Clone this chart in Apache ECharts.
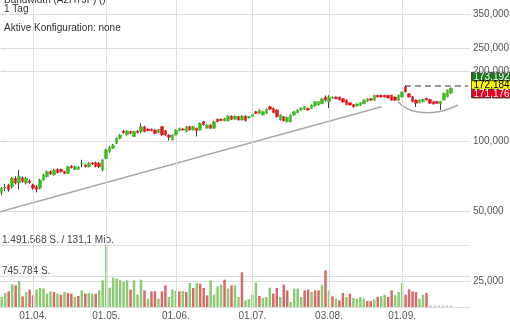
<!DOCTYPE html>
<html><head><meta charset="utf-8">
<script src="https://cdn.jsdelivr.net/npm/echarts@6/dist/echarts.min.js"></script>
<style>html,body{margin:0;padding:0;background:#fff}#c{width:510px;height:320px}</style>
</head><body><div id="c"></div>
<script>
// ---------- data ----------
const dates = ['19.03.','20.03.','23.03.','24.03.','25.03.','26.03.','27.03.','30.03.','31.03.',
'01.04.','02.04.','03.04.','06.04.','07.04.','08.04.','09.04.','13.04.','14.04.','15.04.','16.04.','17.04.','20.04.','21.04.','22.04.','23.04.','24.04.','27.04.','28.04.','29.04.','30.04.',
'01.05.','04.05.','05.05.','06.05.','07.05.','08.05.','11.05.','12.05.','13.05.','14.05.','15.05.','18.05.','19.05.','20.05.','21.05.','22.05.','26.05.','27.05.','28.05.','29.05.',
'01.06.','02.06.','03.06.','04.06.','05.06.','08.06.','09.06.','10.06.','11.06.','12.06.','15.06.','16.06.','17.06.','18.06.','19.06.','22.06.','23.06.','24.06.','25.06.','26.06.','29.06.','30.06.',
'01.07.','02.07.','06.07.','07.07.','08.07.','09.07.','10.07.','13.07.','14.07.','15.07.','16.07.','17.07.','20.07.','21.07.','22.07.','23.07.','24.07.','27.07.','28.07.','29.07.','30.07.','31.07.',
'03.08.','04.08.','05.08.','06.08.','07.08.','10.08.','11.08.','12.08.','13.08.','14.08.','17.08.','18.08.','19.08.','20.08.','21.08.','24.08.','25.08.','26.08.','27.08.','28.08.','31.08.',
'01.09.','02.09.','03.09.','04.09.','08.09.','09.09.','10.09.','11.09.','14.09.','15.09.','16.09.','17.09.','18.09.','21.09.','22.09.',
'23.09.','24.09.','25.09.','28.09.','29.09.'];

const monthLabels = ['01.04.','01.05.','01.06.','01.07.','03.08.','01.09.'];

// [open, close, low, high]
const ohlc = [
[59.9,62.6,58.5,63.5],[62.8,63.2,60.8,65.5],[64.7,61.6,60.5,65.5],[63.6,69.1,62.5,70.0],[69.1,66.0,65.0,70.5],
[66.0,70.5,62.0,75.0],[69.5,67.0,66.0,70.5],[65.9,69.1,65.0,70.0],[67.3,66.2,65.5,68.5],[64.7,62.6,61.8,65.5],
[63.6,61.8,60.0,64.5],[62.6,68.0,62.0,68.8],[68.0,71.5,67.5,72.2],[70.2,73.8,69.8,74.5],[73.8,72.2,71.5,74.6],
[71.4,75.0,71.0,75.8],[75.5,73.0,72.5,76.2],[75.5,73.8,73.2,76.0],[73.8,72.6,72.0,74.5],[72.6,77.5,72.0,78.2],
[78.0,76.8,76.2,78.8],[75.5,77.5,75.0,78.2],[75.6,77.2,75.2,77.8],[80.0,80.3,77.0,83.0],[78.9,77.5,77.0,79.5],
[77.5,80.2,77.0,81.0],[80.3,79.5,79.0,81.0],[80.7,77.5,77.0,81.5],[80.2,77.5,76.5,81.0],[75.0,82.8,74.0,83.5],
[84.0,91.5,83.5,92.5],[90.0,94.0,89.0,95.0],[93.0,96.0,92.5,97.0],[97.7,102.7,97.0,103.5],[102.7,106.1,102.0,107.0],
[110.4,108.6,107.5,111.2],[106.1,110.4,105.5,111.0],[109.7,107.9,107.0,110.5],[104.4,109.7,104.0,110.2],[110.4,108.6,108.0,111.0],
[109.7,115.2,107.9,119.0],[115.2,109.7,109.0,116.0],[112.6,110.8,110.2,113.2],[112.5,110.8,110.0,113.0],[111.5,107.9,107.2,112.2],
[108.6,112.0,108.0,112.6],[115.2,106.1,105.5,116.0],[110.8,106.1,105.0,111.5],[106.1,103.7,100.5,106.8],[101.0,106.1,100.5,106.8],
[106.1,111.5,105.5,112.0],[110.8,113.4,110.2,114.0],[112.6,111.5,111.0,113.5],[109.7,115.2,109.0,115.8],[115.2,111.5,111.0,116.0],
[111.5,115.2,111.0,115.8],[113.4,110.8,104.5,114.0],[111.5,119.1,111.0,120.0],[121.0,117.2,116.5,122.0],[113.4,117.2,113.0,118.0],
[117.2,113.4,112.8,118.0],[113.4,121.0,113.0,122.0],[124.0,121.0,120.5,124.8],[124.0,122.4,121.8,124.8],[122.2,125.0,121.5,125.8],
[122.2,128.0,121.5,128.8],[128.0,124.0,123.2,128.8],[124.0,128.0,123.5,128.8],[127.2,123.1,122.5,128.0],[123.1,128.0,122.5,128.8],
[128.0,122.2,121.5,128.8],[125.5,127.2,125.0,128.0],[127.2,130.5,126.5,131.2],[133.6,131.5,130.8,134.4],[131.5,135.9,130.8,136.6],
[129.3,133.6,128.6,134.4],[131.5,136.9,130.8,137.8],[140.5,136.9,136.2,141.4],[138.2,132.4,131.6,139.0],[135.9,127.2,126.4,136.8],
[123.1,129.4,122.4,130.2],[127.2,122.2,121.4,128.0],[121.0,126.4,120.2,127.2],[121.0,129.3,120.2,130.0],[129.3,133.6,128.6,134.4],
[132.4,135.9,131.6,136.6],[135.9,138.2,135.2,139.0],[136.9,140.5,136.2,141.4],[138.2,135.9,135.2,139.0],[138.2,142.8,137.5,143.6],
[141.4,147.6,140.5,148.4],[142.8,147.6,142.0,148.4],[144.7,152.0,144.0,152.8],[154.6,150.1,148.0,157.0],[147.1,154.6,138.6,157.2],
[153.1,154.6,152.0,155.5],[154.6,152.0,151.2,155.3],[154.6,150.1,149.4,155.3],[152.0,147.1,146.3,152.8],[150.1,143.3,142.6,150.8],
[146.1,142.8,142.0,146.8],[143.3,140.0,139.2,144.0],[141.4,144.3,140.6,145.0],[142.4,146.1,141.6,146.8],[144.7,150.1,144.0,150.8],
[148.2,152.0,147.4,152.8],[152.0,149.7,149.0,152.8],[149.7,157.2,149.0,158.0],[157.2,154.6,153.8,158.0],[157.2,154.6,153.8,158.0],
[157.2,154.6,153.8,158.0],[157.2,153.1,152.4,158.0],[157.2,149.7,149.0,158.0],[154.6,149.7,149.0,155.3],[149.7,157.2,149.0,158.0],
[154.6,162.5,153.8,163.3],[170.7,162.5,161.5,174.0],[159.7,154.6,153.8,160.5],[155.0,147.6,146.8,155.8],[150.0,145.2,140.0,150.8],
[146.0,150.0,145.2,150.8],[147.6,151.0,146.8,151.8],[152.6,150.0,149.2,153.4],[151.0,145.2,144.4,151.8],[147.6,144.2,143.4,148.4],
[147.6,145.2,144.4,148.4],[144.5,148.0,136.0,148.8],[150.1,160.4,149.2,161.2],[155.0,165.7,154.2,166.5],[160.4,168.5,159.5,169.5]
];

const volume = [
241000,337000,377000,546000,522000,626000,257000,361000,419000,281000,
419000,457000,443000,321000,377000,361000,321000,297000,361000,337000,
321000,241000,265000,401000,321000,337000,321000,321000,401000,642000,
1491568,466000,706000,682000,642000,601000,642000,419000,642000,297000,
658000,401000,201000,377000,377000,201000,377000,522000,241000,419000,
385000,377000,385000,361000,577000,457000,577000,562000,457000,281000,
642000,297000,497000,538000,658000,443000,522000,522000,241000,834000,
160000,185000,297000,586000,265000,217000,241000,466000,321000,457000,
241000,538000,401000,120000,443000,443000,241000,401000,419000,361000,
401000,401000,522000,883000,401000,257000,201000,160000,337000,241000,
321000,217000,201000,241000,201000,144000,144000,185000,241000,257000,
297000,241000,401000,281000,361000,577000,297000,425000,377000,361000,
201000,297000,337000,16000,null,null,null,null,null,null
];
const volDir = [
'g','g','r','g','r','g','r','g','r','r',
'g','g','g','g','g','r','g','r','g','r',
'r','g','r','g','r','g','g','r','g','g',
'g','g','g','g','g','g','g','r','g','g',
'g','r','g','r','r','g','r','r','g','g',
'g','r','g','r','g','r','g','r','r','r',
'g','g','g','g','r','g','r','g','g','r',
'g','g','g','g','r','g','g','g','r','r',
'g','r','r','g','g','g','g','r','r','g',
'r','r','g','r','g','r','g','r','r','g',
'r','g','g','g','g','r','r','g','r','g',
'g','r','r','g','g','g','r','r','r','r',
'g','g','r','g','g','g','g','g','g','g'
];
const volTail = [[123, 22000], [129.3, 22000]];

const priceTicks = [25, 50, 100, 200, 250, 350];
const volTicks = [745784, 1491568];
const trendLine = [[-0.5, 49.6], [109.1, 140.4]];
const arcLine = [[113.8,147.6],[116.3,138.2],[119.2,133.7],[122.5,132.3],[126.8,135.0],[131.1,142.8]];
const resistance = [[115.8, 172.4], [133.9, 172.4]];
const quoteValues = [173.192, 172.184, 171.176];

// ---------- chart ----------
const FONT = 'Liberation Sans, Arial, sans-serif';
const GREEN = '#3fbb1f', RED = '#e8141c', WICK = '#3a3a3a';
const VG = '#8ccb74', VR = '#d76b6b';
const GRID = '#dedede';
const fmtPrice = v => v.toFixed(3).replace('.', ',');

const chart = echarts.init(document.getElementById('c'), null, {renderer: 'canvas'});
const bodies = ohlc.map(d => [d[0], d[1], Math.min(d[0], d[1]), Math.max(d[0], d[1])]);

chart.setOption({
  animation: false,
  backgroundColor: '#fff',
  textStyle: {fontFamily: FONT},
  grid: [
    {left: 0, right: 40, top: 0, bottom: 13, outerBoundsMode: 'none'},
    {left: 0, right: 40, top: 245, bottom: 13, outerBoundsMode: 'none'}
  ],
  xAxis: [
    {type: 'category', gridIndex: 0, data: dates, boundaryGap: true,
     axisLine: {show: false}, axisTick: {show: false}, axisLabel: {show: false}, splitLine: {show: false}},
    {type: 'category', gridIndex: 1, data: dates, boundaryGap: true,
     axisLine: {show: false}, axisTick: {show: false}, splitLine: {show: false},
     axisLabel: {show: true, interval: (i, v) => monthLabels.includes(v), color: '#555', fontSize: 10, margin: 4, fontFamily: FONT}},
    {type: 'value', gridIndex: 0, min: -0.5, max: 134.5, show: false},
    {type: 'value', gridIndex: 1, min: -0.5, max: 134.5, show: false}
  ],
  yAxis: [
    {type: 'log', gridIndex: 0, position: 'right', min: 19.31, max: 403.97, logBase: 10,
     axisLine: {show: false},
     axisTick: {show: true, length: 3, lineStyle: {color: '#ccc'}, customValues: priceTicks},
     axisLabel: {show: true, customValues: priceTicks, formatter: fmtPrice, color: '#555', fontSize: 10, margin: 3, fontFamily: FONT},
     splitLine: {show: true, lineStyle: {color: GRID, width: 1}}},
    {type: 'value', gridIndex: 1, position: 'left', min: 0, max: 1491568, interval: 745784,
     axisLine: {show: false}, axisTick: {show: false},
     axisLabel: {show: true, inside: true, verticalAlign: 'bottom', align: 'left', margin: 2, showMaxLabel: true,
       color: '#444', fontSize: 10, fontFamily: FONT,
       formatter: v => v >= 1491568 ? '1.491.568 S. / 131,1 Mio.' : (v >= 745784 ? '745.784 S.' : '')},
     splitLine: {show: true, lineStyle: {color: GRID, width: 1}}}
  ],
  series: [
    {type: 'line', xAxisIndex: 0, yAxisIndex: 0, data: dates.map(() => null), z: 1, silent: true, symbol: 'none',
     markLine: {silent: true, symbol: 'none', label: {show: false}, animation: false,
       lineStyle: {color: GRID, width: 1, type: 'solid'},
       data: monthLabels.map(m => ({xAxis: m}))}},
    {type: 'bar', xAxisIndex: 1, yAxisIndex: 1, barWidth: '72%', z: 2,
     data: volume.map((v, i) => ({value: v, itemStyle: {color: volDir[i] === 'g' ? VG : VR}}))},
    {type: 'line', xAxisIndex: 3, yAxisIndex: 1, data: volTail, symbol: 'none', z: 2,
     lineStyle: {color: '#aaa', width: 1, type: [2, 2]}},
    {type: 'line', xAxisIndex: 2, yAxisIndex: 0, data: trendLine, symbol: 'none', z: 3,
     lineStyle: {color: '#a8a8a8', width: 1.5}},
    {type: 'line', xAxisIndex: 2, yAxisIndex: 0, data: arcLine, symbol: 'none', smooth: 0.5, z: 3,
     lineStyle: {color: '#a8a8a8', width: 1.5}},
    {type: 'line', xAxisIndex: 2, yAxisIndex: 0, data: resistance, symbol: 'none', z: 3,
     lineStyle: {color: '#9a9a9a', width: 2, type: [6, 4]}},
    {type: 'candlestick', xAxisIndex: 0, yAxisIndex: 0, data: ohlc, barWidth: 1, z: 4,
     itemStyle: {color: WICK, color0: WICK, borderColor: WICK, borderColor0: WICK, borderWidth: 1}},
    {type: 'candlestick', xAxisIndex: 0, yAxisIndex: 0, data: bodies, barWidth: 3, z: 5,
     itemStyle: {color: GREEN, color0: RED, borderColor: GREEN, borderColor0: RED, borderWidth: 0.5}}
  ]
});

// ---------- annotations ----------
const yLast = chart.convertToPixel({yAxisIndex: 0}, quoteValues[1]);
const boxStyles = [
  {bg: '#1c7a1c', fg: '#fff'},
  {bg: '#ffff00', fg: '#000'},
  {bg: '#e4001e', fg: '#fff'}
];
const boxes = quoteValues.map((q, k) => {
  const cy = yLast - 1 + (k - 1) * 8.6;
  return {type: 'group', z: 100, children: [
    {type: 'rect', shape: {x: 471.5, y: cy - 4.3, width: 40, height: 8.6},
     style: {fill: boxStyles[k].bg, stroke: '#333', lineWidth: 0.8}},
    {type: 'text', x: 473.5, y: cy + 0.3,
     style: {text: fmtPrice(q), fill: boxStyles[k].fg, font: '10px ' + FONT, textVerticalAlign: 'middle', verticalAlign: 'middle'}}
  ]};
});
const titles = [
  {text: 'Bandwidth (A2H7JF) ()', y: 0.5},
  {text: '1 Tag', y: 9.5},
  {text: 'Aktive Konfiguration: none', y: 28.5}
].map(t => ({type: 'text', x: 4, y: t.y, z: 100,
  style: {text: t.text, fill: '#333', font: '10px ' + FONT, textVerticalAlign: 'middle', verticalAlign: 'middle'}}));

chart.setOption({graphic: titles.concat(boxes)});
</script>
</body></html>
